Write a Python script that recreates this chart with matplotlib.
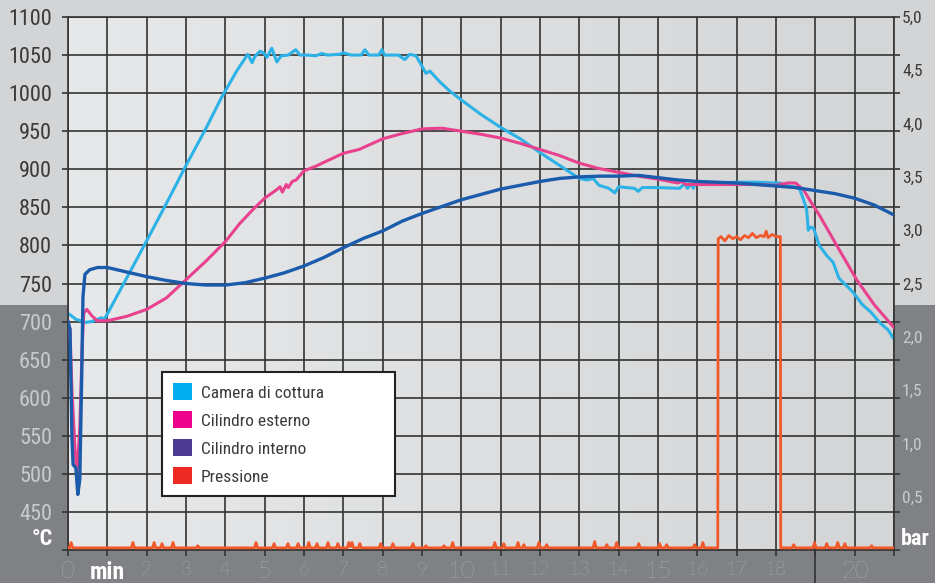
import matplotlib
matplotlib.use("Agg")
import matplotlib.pyplot as plt
import numpy as np
from matplotlib import font_manager as fm
from matplotlib.patches import Rectangle, Patch
from matplotlib.lines import Line2D
from matplotlib.colors import LinearSegmentedColormap
import matplotlib.transforms as mtransforms

# ---------------- data ----------------
series_names = ["Camera di cottura", "Cilindro esterno", "Cilindro interno", "Pressione"]

cyan_min = [0.0, 0.2, 0.45, 0.6, 0.75, 0.85, 0.92, 1.0, 1.5, 2.0, 2.5, 3.0, 3.5, 3.9, 4.3,
            4.57, 4.68, 4.75, 4.88, 4.97, 5.06, 5.18, 5.31, 5.42, 5.6, 5.79, 5.9, 6.1, 6.3,
            6.45, 6.6, 6.9, 7.0, 7.2, 7.45, 7.55, 7.65, 7.9, 7.98, 8.05, 8.4, 8.56, 8.69,
            8.85, 8.95, 9.1, 9.2, 9.45, 9.7, 10.0, 10.5, 11.0, 11.5, 12.0, 12.5, 13.0, 13.2,
            13.35, 13.5, 13.75, 13.9, 14.0, 14.4, 14.5, 14.6, 15.0, 15.55, 15.67, 15.75,
            15.85, 15.9, 15.95, 16.5, 17.0, 17.5, 18.0, 18.1, 18.2, 18.45, 18.6, 18.7, 18.78,
            18.82, 18.87, 18.95, 19.03, 19.1, 19.3, 19.45, 19.6, 19.95, 20.2, 20.4, 20.65,
            20.85, 21.0]
cyan_temp = [711, 703, 699, 700, 703, 705, 703, 710, 758, 806, 855, 905, 953, 994, 1030,
             1051, 1040, 1048, 1055, 1053, 1047, 1059, 1041, 1049, 1050, 1057, 1050, 1050, 1049,
             1052, 1050, 1051, 1053, 1050, 1050, 1057, 1050, 1050, 1057, 1050, 1050, 1044, 1051,
             1049, 1040, 1026, 1029, 1015, 1003, 991, 972, 955, 940, 922, 905, 888, 886,
             888, 879, 875, 869, 877, 875, 871, 876, 876, 875, 881, 875,
             881, 875, 882, 882, 883, 883, 882, 882, 879, 877, 874, 860, 847,
             820, 824, 823, 811, 800, 786, 778, 757, 739, 722, 713, 698,
             689, 677]

pink_min = [0.0, 0.05, 0.1, 0.18, 0.23, 0.3, 0.36, 0.4, 0.48, 0.6, 0.74, 1.0, 1.5, 2.0, 2.5,
            3.0, 3.5, 4.0, 4.37, 4.7, 5.0, 5.3, 5.39, 5.45, 5.55, 5.6, 5.7, 5.8, 6.0, 6.3,
            6.5, 7.0, 7.4, 8.0, 8.5, 9.0, 9.5, 10.0, 10.5, 11.0, 11.5, 12.0, 12.5, 13.0,
            13.5, 14.0, 14.5, 15.0, 15.5, 15.6, 15.7, 16.0, 16.5, 17.0, 17.5, 18.0, 18.3,
            18.5, 18.7, 18.9, 19.1, 19.6, 20.05, 20.5, 21.0]
pink_temp = [700, 690, 610, 531, 501, 560, 667, 711, 716, 708, 701, 701, 707, 716, 731,
             755, 779, 805, 829, 847, 862, 873, 877, 870, 880, 876, 884, 886, 898, 904,
             909, 921, 926, 940, 947, 953, 954, 950, 946, 941, 934, 926, 918, 908,
             901, 896, 891, 887, 882, 884, 880, 880, 880, 880, 880, 879, 882,
             882, 873, 856, 840, 795, 755, 722, 692]

blue_min = [0.0, 0.05, 0.1, 0.13, 0.2, 0.25, 0.3, 0.35, 0.38, 0.43, 0.55, 0.75, 1.0, 1.5,
            2.0, 2.5, 3.0, 3.5, 4.0, 4.5, 5.0, 5.5, 6.0, 6.5, 7.0, 7.5, 8.0, 8.5, 9.0, 9.5,
            10.0, 10.5, 11.0, 11.5, 12.0, 12.5, 13.0, 13.5, 14.0, 14.5, 15.0, 15.5, 16.0,
            16.5, 17.0, 17.5, 18.0, 18.5, 19.0, 19.5, 20.0, 20.5, 21.0]
blue_temp = [700, 690, 547, 512, 508, 473, 493, 632, 732, 762, 768, 771, 771, 765,
             759, 754, 750, 748, 748, 751, 757, 764, 773, 784, 797, 809, 819, 832, 842, 851,
             860, 867, 874, 879, 884, 888, 890, 891, 891, 892, 889, 886, 884,
             883, 882, 880, 878, 876, 872, 868, 862, 853, 840]

press_min = [0.0, 0.04, 0.08, 0.12, 1.61, 1.65, 1.69, 2.15, 2.19, 2.23, 2.35, 2.39, 2.43,
             2.63, 2.67, 2.71, 3.26, 3.30, 3.34, 4.74, 4.78, 4.82, 5.20, 5.24, 5.28, 5.55,
             5.59, 5.63, 5.81, 5.85, 5.89, 6.08, 6.12, 6.16, 6.29, 6.33, 6.37, 6.57, 6.61,
             6.65, 6.82, 6.86, 6.90, 7.10, 7.14, 7.18, 7.22, 7.26, 7.38, 7.42, 7.46, 7.91,
             7.95, 7.99, 8.22, 8.26, 8.30, 8.73, 8.77, 8.81, 9.06, 9.10, 9.14, 9.52, 9.56,
             9.60, 9.74, 9.78, 9.82, 10.81, 10.85, 10.89, 11.04, 11.08, 11.12, 11.40, 11.44,
             11.48, 11.55, 11.59, 11.63, 11.93, 11.97, 12.01, 12.13, 12.17, 12.21, 13.35,
             13.39, 13.43, 13.66, 13.70, 13.74, 13.91, 13.95, 13.99, 14.47, 14.51, 14.55,
             15.00, 15.04, 15.08, 15.18, 15.22, 15.26, 15.89, 15.93, 15.97, 16.10, 16.14,
             16.18, 16.52, 16.53, 16.6, 16.7, 16.8, 16.9, 17.0, 17.1, 17.2, 17.3, 17.4, 17.5,
             17.6, 17.7, 17.75, 17.8, 17.9, 18.0, 18.11, 18.12, 18.41, 18.45, 18.49, 18.94,
             18.98, 19.02, 19.25, 19.29, 19.33, 19.53, 19.57, 19.61, 19.71, 19.75, 19.79,
             20.39, 20.43, 20.47, 21.0]
press_bar = [0.02, 0.02, 0.07, 0.02, 0.02, 0.07, 0.02, 0.02, 0.07, 0.02, 0.02, 0.06, 0.02,
             0.02, 0.07, 0.02, 0.02, 0.04, 0.02, 0.02, 0.07, 0.02, 0.02, 0.06, 0.02, 0.02,
             0.06, 0.02, 0.02, 0.06, 0.02, 0.02, 0.07, 0.02, 0.02, 0.06, 0.02, 0.02, 0.07,
             0.02, 0.02, 0.06, 0.02, 0.02, 0.07, 0.03, 0.07, 0.02, 0.02, 0.06, 0.02, 0.02,
             0.06, 0.02, 0.02, 0.06, 0.02, 0.02, 0.06, 0.02, 0.02, 0.04, 0.02, 0.02, 0.04,
             0.02, 0.02, 0.07, 0.02, 0.02, 0.07, 0.02, 0.02, 0.06, 0.02, 0.02, 0.07,
             0.02, 0.02, 0.05, 0.02, 0.02, 0.07, 0.02, 0.02, 0.05, 0.02, 0.02,
             0.08, 0.02, 0.02, 0.05, 0.02, 0.02, 0.07, 0.02, 0.02, 0.06, 0.02,
             0.02, 0.06, 0.02, 0.02, 0.05, 0.02, 0.02, 0.05, 0.02, 0.02, 0.07,
             0.02, 0.02, 2.92, 2.94, 2.90, 2.95, 2.92, 2.94, 2.91, 2.95, 2.93, 2.97, 2.93,
             2.95, 2.94, 2.99, 2.93, 2.96, 2.94, 2.94, 0.02, 0.02, 0.05, 0.02, 0.02,
             0.07, 0.02, 0.02, 0.06, 0.02, 0.02, 0.07, 0.02, 0.02, 0.06, 0.02,
             0.02, 0.04, 0.02, 0.02]

x_ticks = list(range(0, 22))
x_labels = ["0", "min", "2", "3", "4", "5", "6", "7", "8", "9", "10", "11", "12", "13",
            "14", "15", "16", "17", "18", "", "20", ""]
big_x_labels = ["0", "5", "10", "15", "20"]
temp_ticks = list(range(400, 1101, 50))
temp_labels = [""] + [str(v) for v in range(450, 1101, 50)]
bar_ticks = [0.5, 1.0, 1.5, 2.0, 2.5, 3.0, 3.5, 4.0, 4.5, 5.0]
bar_labels = ["0,5", "1,0", "1,5", "2,0", "2,5", "3,0", "3,5", "4,0", "4,5", "5,0"]

line_colors = ["#2cb2e6", "#e8418e", "#1a5bab", "#f1592a"]
legend_colors = ["#00aeef", "#ec008c", "#4b3b93", "#ed2a24"]

# ---------------- fonts ----------------
avail = {f.name for f in fm.fontManager.ttflist}
NARROW, STRETCH = "DejaVu Sans", "condensed"
for cand in ["Liberation Sans Narrow", "Roboto Condensed", "Open Sans Condensed",
             "Arial Narrow", "Noto Sans Condensed"]:
    if cand in avail:
        NARROW, STRETCH = cand, "normal"
        break
THIN = "Lato" if "Lato" in avail else "DejaVu Sans"


def narrow(text_obj, size, weight="normal"):
    text_obj.set_fontfamily(NARROW)
    text_obj.set_fontstretch(STRETCH)
    text_obj.set_fontsize(size)
    text_obj.set_fontweight(weight)


W, H = 935, 583
DARK_TXT = "#3a3a3a"
LIGHT_TXT = "#c9cacc"
GRID = "#333333"

fig = plt.figure(figsize=(W / 100, H / 100), dpi=100, facecolor="#d3d4d6")
fig.add_artist(Rectangle((0, 0), 1, 1 - 305 / H, transform=fig.transFigure,
                         facecolor="#808184", edgecolor="none", zorder=-10))

ax = fig.add_axes([68 / W, 1 - 550 / H, (894 - 68) / W, (550 - 17) / H])
ax2 = ax.twinx()

# plot background gradient
grad = np.linspace(0, 1, 256).reshape(1, -1)
cmap = LinearSegmentedColormap.from_list("bg", ["#e7e8ea", "#d4d5d7"])
ax.imshow(grad, extent=[0, 21, 400, 1100], aspect="auto", cmap=cmap, zorder=-1,
          interpolation="bilinear")
ax.set_xlim(0, 21)
ax.set_ylim(400, 1100)

ax.set_xticks(x_ticks)
ax.set_yticks(temp_ticks)
ax.grid(True, color=GRID, lw=1.2, zorder=0.5)
ax.set_axisbelow(True)
for s in ax.spines.values():
    s.set_color(GRID)
    s.set_linewidth(1.2)
for s in ax2.spines.values():
    s.set_visible(False)

# lines
ax.plot(cyan_min, cyan_temp, color=line_colors[0], lw=2.2, zorder=2, solid_joinstyle="round")
ax.plot(pink_min, pink_temp, color=line_colors[1], lw=2.2, zorder=3, solid_joinstyle="round")
ax.plot(blue_min, blue_temp, color=line_colors[2], lw=2.4, zorder=4, solid_joinstyle="round")
ax2.plot(press_min, press_bar, color=line_colors[3], lw=2.0, zorder=2)
ax2.set_ylim(0, 5)
ax2.set_xlim(0, 21)

# y ticks left & right marks
ax.yaxis.set_ticks_position("both")
ax.tick_params(axis="y", which="major", left=True, right=True, labelleft=True,
               labelright=False, length=4, width=1.2, color=GRID, direction="out", pad=7.5)
ax.set_yticklabels(temp_labels)
for lbl, v in zip(ax.get_yticklabels(), temp_ticks):
    narrow(lbl, 16)
    lbl.set_color(DARK_TXT if v >= 750 else LIGHT_TXT)

# x ticks
ax.tick_params(axis="x", length=4, width=1.2, color=GRID, direction="out", pad=4)
ax.set_xticklabels(x_labels)
for lbl, t in zip(ax.get_xticklabels(), x_labels):
    if t == "min":
        narrow(lbl, 17, "bold")
        lbl.set_color("white")
    elif t in big_x_labels:
        lbl.set_fontfamily(THIN)
        lbl.set_fontweight("light")
        lbl.set_fontsize(17)
        lbl.set_color(LIGHT_TXT)
    else:
        lbl.set_fontfamily(THIN)
        lbl.set_fontweight("light")
        lbl.set_fontsize(13.5)
        lbl.set_color(LIGHT_TXT)

# right axis labels
ax2.set_yticks(bar_ticks)
ax2.set_yticklabels(bar_labels)
ax2.tick_params(axis="y", length=0, pad=5.8)
for lbl, v in zip(ax2.get_yticklabels(), bar_ticks):
    narrow(lbl, 12.5)
    lbl.set_color(DARK_TXT if v >= 2.5 else LIGHT_TXT)

# extended gridline at 19 min
blend = mtransforms.blended_transform_factory(ax.transData, fig.transFigure)
fig.add_artist(Line2D([19, 19], [0, 1 - 550 / H], transform=blend, color=GRID, lw=1.2,
                      zorder=5))

# unit labels
t1 = fig.text(42 / W, 1 - 539 / H, "°C", ha="center", va="center", color="white")
narrow(t1, 16, "bold")
t2 = fig.text(901 / W, 1 - 539 / H, "bar", ha="left", va="center", color="white")
narrow(t2, 16, "bold")

# legend
handles = [Patch(facecolor=c, edgecolor="none") for c in legend_colors]
leg = ax2.legend(handles, series_names, loc="upper left",
                 bbox_to_anchor=(162 / W, 1 - 496 / H, (395 - 162) / W, (496 - 372) / H),
                 bbox_transform=fig.transFigure, mode="expand", borderaxespad=0,
                 fancybox=False, framealpha=1, facecolor="white", edgecolor="#222222",
                 prop=fm.FontProperties(family=NARROW, stretch=STRETCH, size=12.5),
                 handlelength=1.1, handleheight=1.1,
                 handletextpad=0.5, labelspacing=0.62, borderpad=0.65)
leg.get_frame().set_linewidth(1.5)
for t in leg.get_texts():
    t.set_color(DARK_TXT)
leg.set_zorder(10)

fig.savefig("out.png", dpi=100, facecolor=fig.get_facecolor())
